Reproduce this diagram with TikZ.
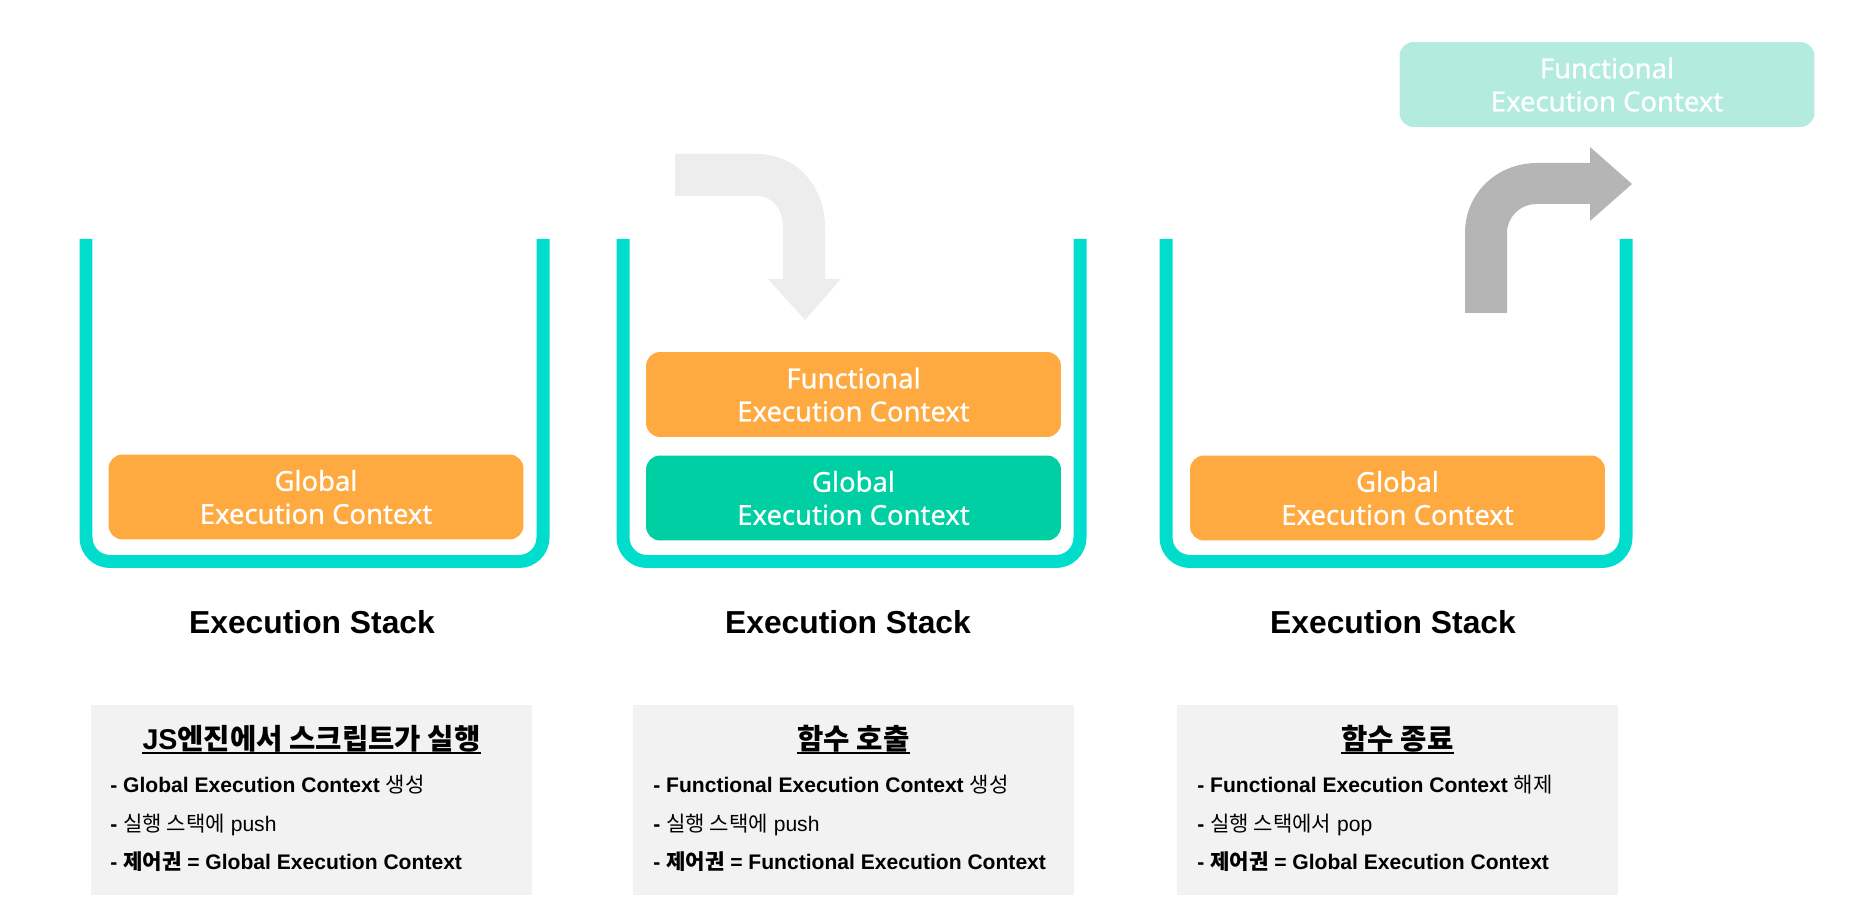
\documentclass[tikz,border=0pt]{standalone}
\usepackage{fontspec}
\setmainfont{Liberation Sans}
\newfontfamily\kr{Noto Sans CJK KR}
\newfontfamily\boxfont{Noto Sans}[FakeBold=0.7]
\usetikzlibrary{calc}
\definecolor{wallcol}{HTML}{00DDCC}
\definecolor{ctxorange}{HTML}{FFAA40}
\definecolor{ctxgreen}{HTML}{00CFA4}
\definecolor{ctxfaded}{HTML}{B3ECDF}
\definecolor{infobg}{HTML}{F2F2F2}
\definecolor{arrowlight}{HTML}{EDEDED}
\definecolor{arrowgrey}{HTML}{B5B5B5}

\begin{document}
\begin{tikzpicture}[x=0.02cm,y=-0.02cm,
    wall/.style={line width=0.26cm,draw=wallcol,rounded corners=0.48cm},
    ctx/.style={rounded corners=0.28cm,minimum width=8.3cm,minimum height=1.7cm,
      inner sep=0pt,text=white,align=center,font=\boxfont\fontsize{15.6}{18.8}\selectfont},
    stacklabel/.style={anchor=base,font=\bfseries\fontsize{18.1}{21}\selectfont},
    infobox/.style={fill=infobg,minimum width=8.82cm,minimum height=3.8cm,inner sep=0pt},
    infotitle/.style={anchor=base,inner sep=0pt,font=\bfseries\fontsize{16.3}{19}\selectfont},
    titleline/.style={line width=1.3pt},
    infoline/.style={anchor=base west,inner sep=0pt,font=\fontsize{12}{14}\selectfont}]
  \useasboundingbox (0,0) rectangle (1850,915);
    % stacks
    \draw[wall] (86,239) -- (86,561.5) -- (543,561.5) -- (543,239);
    \draw[wall] (623,239) -- (623,561.5) -- (1080,561.5) -- (1080,239);
    \draw[wall] (1166,239) -- (1166,561.5) -- (1626,561.5) -- (1626,239);
    % contexts
    \node[ctx,fill=ctxorange] (glob1) at (316,497) {Global\\Execution Context};
    \node[ctx,fill=ctxorange] (func2) at (853.5,394.5) {Functional\\Execution Context};
    \node[ctx,fill=ctxgreen] (glob2) at (853.5,498) {Global\\Execution Context};
    \node[ctx,fill=ctxorange] (glob3) at (1397.5,498) {Global\\Execution Context};
    \node[ctx,fill=ctxfaded] (func3) at (1607,84.5) {Functional\\Execution Context};
    % push arrow
    \fill[arrowlight] (675,154) -- (757,154) .. controls (797,154) and (825,187) .. (825,227)
      -- (825,279) -- (841,279) -- (805,320) -- (768,279) -- (783,279) -- (783,227)
      .. controls (783,210) and (773,196) .. (757,196) -- (675,196) -- cycle;
    % pop arrow
    \fill[arrowgrey] (1465,313) -- (1465,233) .. controls (1465,193) and (1497,163) .. (1537,163)
      -- (1590,163) -- (1590,147) -- (1632,184) -- (1590,221) -- (1590,204) -- (1537,204)
      .. controls (1520,204) and (1507,217) .. (1507,233) -- (1507,313) -- cycle;
    % labels
    \node[stacklabel] (lab1) at (312,633) {Execution Stack};
    \node[stacklabel] (lab2) at (848,633) {Execution Stack};
    \node[stacklabel] (lab3) at (1393,633) {Execution Stack};
    % notes
    \node[infobox] (info1) at (311.5,800) {};
    \node[infobox] (info2) at (853.5,800) {};
    \node[infobox] (info3) at (1397.5,800) {};
    \node[infotitle] (title1) at (311.5,749) {JS{\kr 엔진에서 스크립트가 실행}};
    \node[infotitle] (title2) at (853.5,749) {\kr 함수 호출};
    \node[infotitle] (title3) at (1397.5,749) {\kr 함수 종료};
    \draw[titleline] ([yshift=-2.2pt]title1.base west) -- ([yshift=-2.2pt]title1.base east);
    \draw[titleline] ([yshift=-2.2pt]title2.base west) -- ([yshift=-2.2pt]title2.base east);
    \draw[titleline] ([yshift=-2.2pt]title3.base west) -- ([yshift=-2.2pt]title3.base east);
    \node[infoline] (n11) at (110,792) {\textbf{- Global Execution Context} {\kr 생성}};
    \node[infoline] (n12) at (110,831) {\textbf{-} {\kr 실행 스택에} push};
    \node[infoline] (n13) at (110,869) {\textbf{- {\kr 제어권} = Global Execution Context}};
    \node[infoline] (n21) at (653,792) {\textbf{- Functional Execution Context} {\kr 생성}};
    \node[infoline] (n22) at (653,831) {\textbf{-} {\kr 실행 스택에} push};
    \node[infoline] (n23) at (653,869) {\textbf{- {\kr 제어권} = Functional Execution Context}};
    \node[infoline] (n31) at (1197,792) {\textbf{- Functional Execution Context} {\kr 해제}};
    \node[infoline] (n32) at (1197,831) {\textbf{-} {\kr 실행 스택에서} pop};
    \node[infoline] (n33) at (1197,869) {\textbf{- {\kr 제어권} = Global Execution Context}};
\end{tikzpicture}
\end{document}
